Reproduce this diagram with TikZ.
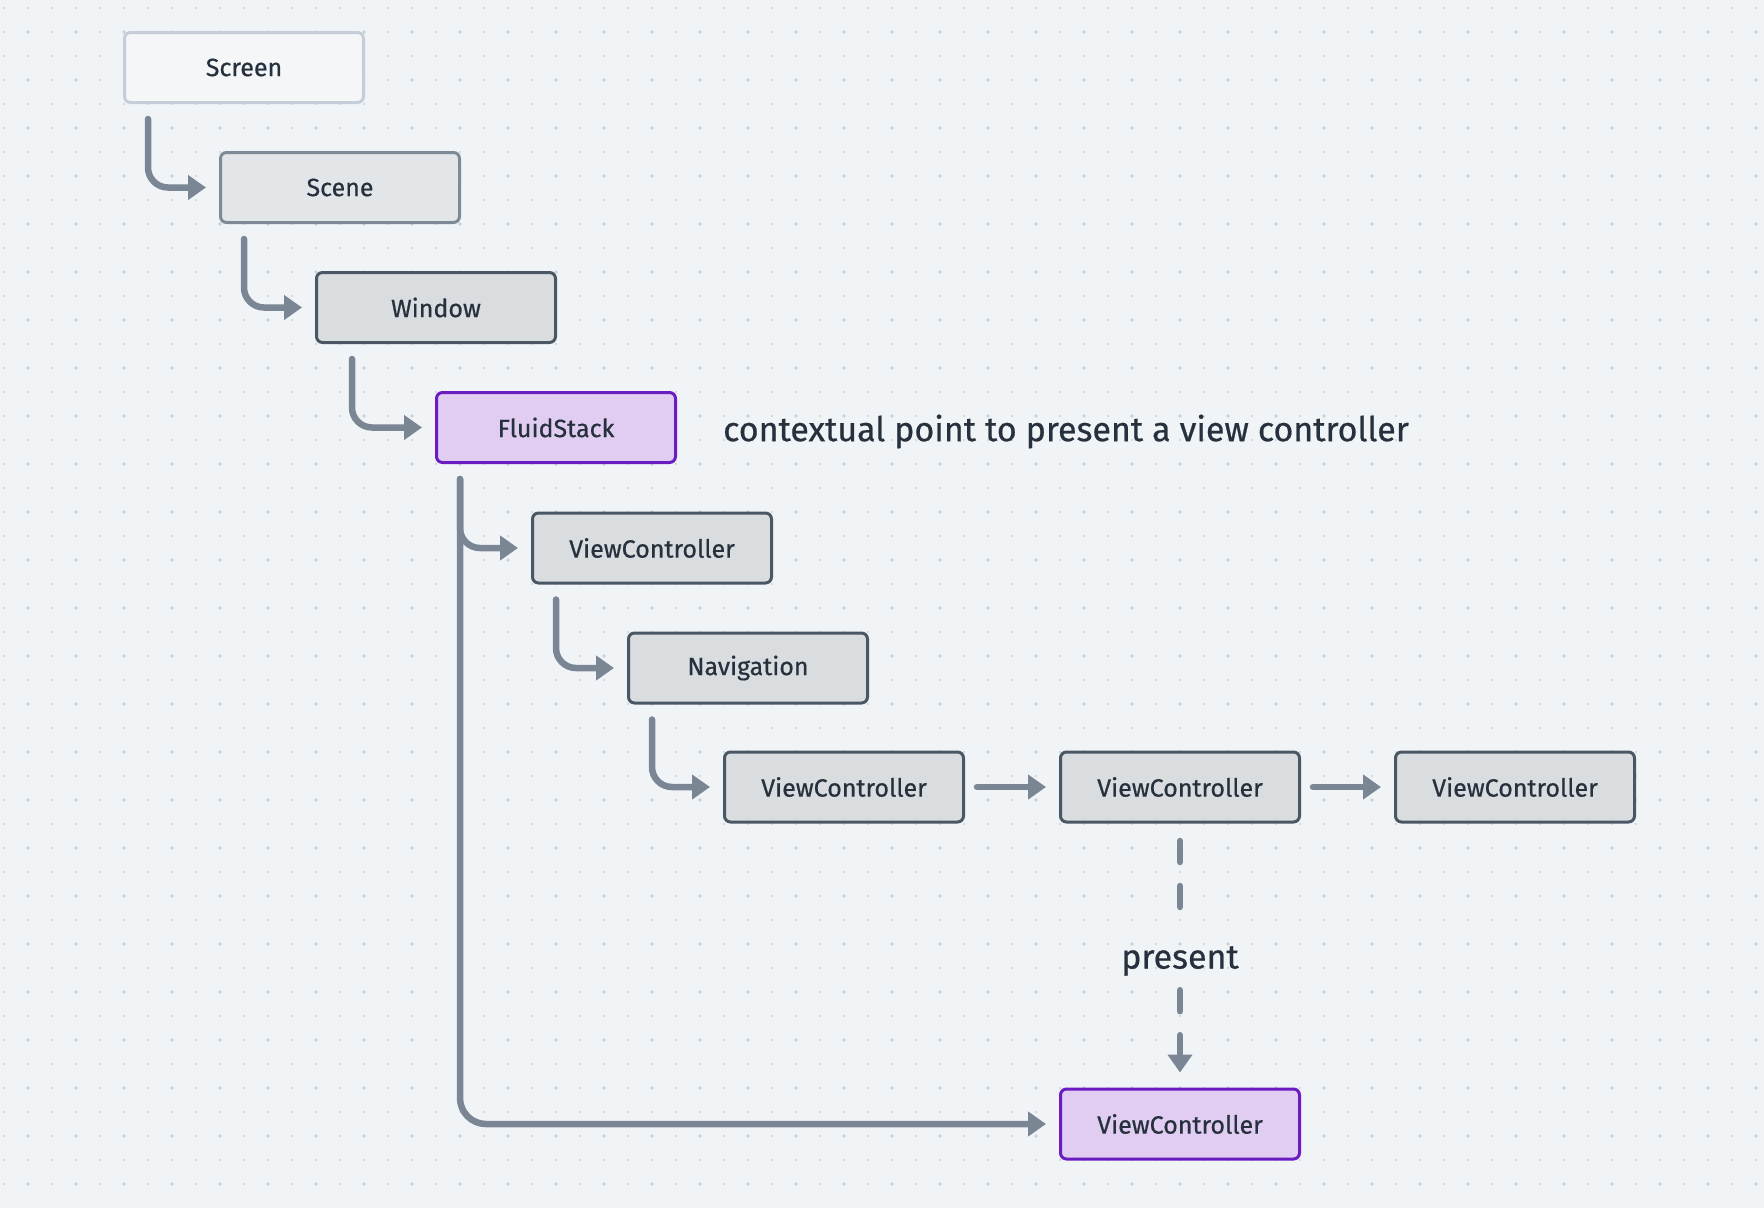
\documentclass[tikz,border=0pt]{standalone}
\usepackage{fontspec}
\setmainfont{Fira Sans}[FakeBold=0.6]
\usetikzlibrary{arrows.meta,positioning}
\definecolor{bgc}{HTML}{F0F4F7}
\definecolor{dotc}{HTML}{C9D1DB}
\definecolor{txt}{HTML}{26313D}
\definecolor{arrc}{HTML}{7B8694}
\definecolor{screenf}{HTML}{F4F6F8}
\definecolor{screenb}{HTML}{C5CED8}
\definecolor{scenef}{HTML}{E3E6E9}
\definecolor{sceneb}{HTML}{7F8A97}
\definecolor{boxf}{HTML}{DADDE0}
\definecolor{boxb}{HTML}{4B5664}
\definecolor{purpf}{HTML}{E0CDF1}
\definecolor{purpb}{HTML}{6B1CC0}

\begin{document}
\begin{tikzpicture}[x=1pt,y=-1pt,
  box/.style={draw, rounded corners=6pt, line width=3pt, minimum width=239pt, minimum height=70pt, font=\fontsize{25}{30}\selectfont, text=txt},
  faint/.style={box, draw=screenb, fill=screenf},
  mid/.style={box, draw=sceneb, fill=scenef},
  plain/.style={box, draw=boxb, fill=boxf},
  accent/.style={box, draw=purpb, fill=purpf},
  link/.style={draw=arrc, line width=6.5pt, line cap=round, -{Triangle[length=18pt,width=24pt]}, rounded corners=20pt},
  dashlink/.style={link, dash pattern=on 21pt off 24pt},
  note/.style={font=\fontsize{34}{40}\selectfont, text=txt, inner sep=0pt}]
\useasboundingbox (0,0) rectangle (1764,1208);
\fill[bgc] (0,0) rectangle (1764,1208);
\foreach \i in {0,...,73}
  \foreach \j in {0,...,49}
    \fill[dotc] (4+24*\i,8+24*\j) circle (1.1pt);
\foreach \i in {0,...,36}
  \foreach \j in {0,...,24}
    \fill[dotc] (28+48*\i,32+48*\j) circle (1.9pt);

\node[faint] (screen) at (244,67.5) {Screen};
\node[mid] (scene) at (340,187.5) {Scene};
\node[plain] (window) at (436,307.5) {Window};
\node[accent] (fluid) at (556,427.5) {FluidStack};
\node[note, anchor=west] (ctx) at ([xshift=46pt,yshift=-4pt]fluid.east) {contextual point to present a view controller};
\node[plain] (vcA) at (652,548) {ViewController};
\node[plain] (nav) at (748,668) {Navigation};
\node[plain] (vcB) at (844,787) {ViewController};
\node[plain] (vcC) at (1180,787) {ViewController};
\node[plain] (vcD) at (1515,787) {ViewController};
\node[accent] (vcE) at (1180,1124) {ViewController};
\node[note, minimum height=58pt] (pres) at (1180,961) {present};

\draw[link] ([xshift=25pt,yshift=-15pt]screen.south west) |- ([xshift=-13pt]scene.west);
\draw[link] ([xshift=25pt,yshift=-15pt]scene.south west) |- ([xshift=-13pt]window.west);
\draw[link] ([xshift=37pt,yshift=-15pt]window.south west) |- ([xshift=-13pt]fluid.west);
\draw[link, rounded corners=26pt] ([xshift=25pt,yshift=-15pt]fluid.south west) |- ([xshift=-13pt]vcE.west);
\draw[link] ([xshift=25pt,yshift=-15pt]fluid.south west) |- ([xshift=-13pt]vcA.west);
\draw[link] ([xshift=25pt,yshift=-15pt]vcA.south west) |- ([xshift=-13pt]nav.west);
\draw[link] ([xshift=25pt,yshift=-15pt]nav.south west) |- ([xshift=-13pt]vcB.west);
\draw[link] ([xshift=12pt]vcB.east) -- ([xshift=-13pt]vcC.west);
\draw[link] ([xshift=12pt]vcC.east) -- ([xshift=-13pt]vcD.west);
\draw[dashlink, -] ([yshift=-17.5pt]vcC.south) -- ([yshift=6pt]pres.north);
\draw[dashlink] (pres.south) -- ([yshift=15pt]vcE.north);
\end{tikzpicture}
\end{document}
